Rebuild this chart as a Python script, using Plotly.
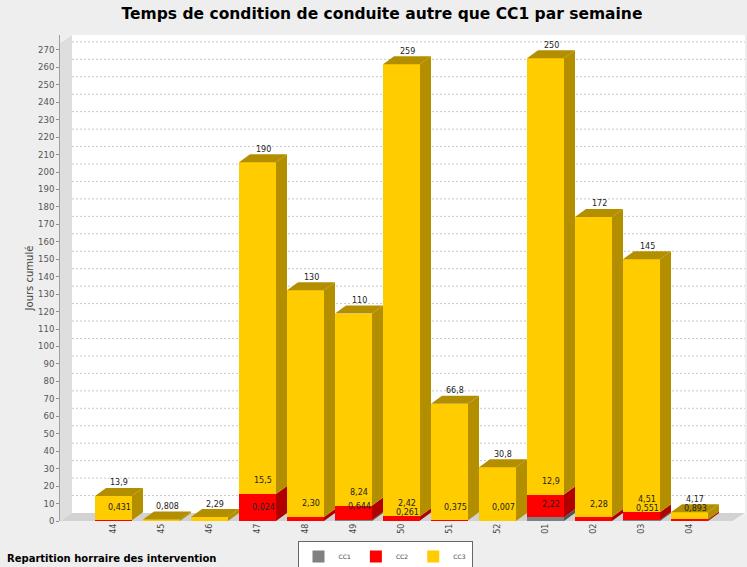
import plotly.graph_objects as go

# ---------------- data ----------------
weeks = ["44", "45", "46", "47", "48", "49", "50", "51", "52", "01", "02", "03", "04"]
series_names = ["CC1", "CC2", "CC3"]
cc1 = [0, 0, 0, 0.024, 0, 0.644, 0.261, 0, 0, 2.22, 0, 0.551, 0]
cc2 = [0.431, 0, 0, 15.5, 2.30, 8.24, 2.42, 0.375, 0.007, 12.9, 2.28, 4.51, 0.893]
cc3 = [13.9, 0.808, 2.29, 190, 130, 110, 259, 66.8, 30.8, 250, 172, 145, 4.17]
y_ticks = list(range(0, 280, 10))

title_text = "Temps de condition de conduite autre que CC1 par semaine"
y_title = "Jours cumulé"
subtitle = "Repartition horraire des intervention"

# ---------------- styling / geometry ----------------
W, H = 747, 567
ML, MR, MT, MB = 60, 2, 35, 46
plot_w = W - ML - MR
plot_h = H - MT - MB
PX_CAT = 48.0
first_center = 113.5 - ML
x0 = -first_center / PX_CAT
x1 = x0 + plot_w / PX_CAT
PX_UNIT = 1.745
ymax = plot_h / PX_UNIT

ddx = 11 / PX_CAT          # bar depth (x)
ddy = 8 / PX_UNIT          # bar depth (y)
wdx = 12 / PX_CAT          # wall depth
wdy = 8 / PX_UNIT
half = 18.5 / PX_CAT       # half bar width
LABEL_SHIFT = 13           # px above segment top
LABEL_SEP = 9              # min px between stacked labels

front_cols = ["#808080", "#FF0000", "#FFCC00"]
dark_cols = ["#555555", "#B00000", "#B38F00"]
paper_col = "#EEEEEE"

data = [cc1, cc2, cc3]
xs = list(range(len(weeks)))

fig = go.Figure()

for s, vals in enumerate(data):
    fig.add_trace(go.Bar(
        x=xs, y=vals, name=series_names[s], width=2 * half,
        marker=dict(color=front_cols[s], line=dict(width=0)),
        hoverinfo="skip"))


def fmt(v):
    if v >= 100:
        t = f"{v:.0f}"
    elif v >= 10:
        t = f"{v:.1f}"
    elif v >= 1:
        t = f"{v:.2f}"
    else:
        t = f"{v:.3f}"
    return t.replace(".", ",")


annotations = []
for i in xs:
    base = 0.0
    top_s = None
    labels = []
    for s, vals in enumerate(data):
        v = vals[i]
        if v <= 0:
            continue
        y0, y1 = base, base + v
        xr = i + half
        fig.add_trace(go.Scatter(
            x=[xr, xr + ddx, xr + ddx, xr, xr],
            y=[y0, y0 + ddy, y1 + ddy, y1, y0],
            mode="lines", fill="toself", fillcolor=dark_cols[s],
            line=dict(width=0, color=dark_cols[s]),
            showlegend=False, hoverinfo="skip"))
        labels.append((y1, v))
        base = y1
        top_s = s
    prev_px = None
    for y1, v in reversed(labels):
        px = y1 * PX_UNIT + LABEL_SHIFT
        if prev_px is not None and px > prev_px - LABEL_SEP:
            px = prev_px - LABEL_SEP
        prev_px = px
        annotations.append(dict(
            x=i + ddx / 2, y=y1, xref="x", yref="y", text=fmt(v),
            showarrow=False, yshift=px - y1 * PX_UNIT,
            font=dict(size=8, color="#222222", family="DejaVu Sans")))
    if top_s is not None:
        xl, xr = i - half, i + half
        fig.add_trace(go.Scatter(
            x=[xl, xr, xr + ddx, xl + ddx, xl],
            y=[base, base, base + ddy, base + ddy, base],
            mode="lines", fill="toself", fillcolor=dark_cols[top_s],
            line=dict(width=0, color=dark_cols[top_s]),
            showlegend=False, hoverinfo="skip"))

shapes = []
for v in y_ticks[1:]:
    shapes.append(dict(type="line", xref="x", yref="y",
                       x0=x0 + wdx, x1=x1, y0=v + wdy, y1=v + wdy,
                       line=dict(color="#C8C8C8", width=1, dash="2px,2px"),
                       layer="below"))
shapes.append(dict(type="path", xref="x", yref="y",
                   path=f"M {x0},0 L {x0+wdx},{wdy} L {x0+wdx},{ymax} L {x0},{ymax-wdy} Z",
                   fillcolor="#DEDEDE", line=dict(width=0), layer="below"))
shapes.append(dict(type="path", xref="x", yref="y",
                   path=f"M {x0},0 L {x1-wdx},0 L {x1},{wdy} L {x0+wdx},{wdy} Z",
                   fillcolor="#D2D2D2", line=dict(width=0), layer="below"))
shapes.append(dict(type="path", xref="x", yref="y",
                   path=f"M {x0},{ymax} L {x0+wdx},{ymax} L {x0},{ymax-wdy} Z",
                   fillcolor=paper_col, line=dict(width=0), layer="below"))
shapes.append(dict(type="path", xref="x", yref="y",
                   path=f"M {x1-wdx},0 L {x1},0 L {x1},{wdy} Z",
                   fillcolor=paper_col, line=dict(width=0), layer="below"))

annotations.append(dict(
    text=subtitle, xref="paper", yref="paper",
    x=(5 - ML) / plot_w, y=-(558 - (H - MB)) / plot_h,
    xanchor="left", yanchor="middle", showarrow=False,
    font=dict(size=10, color="#000000", family="DejaVu Sans", weight="bold")))

fig.update_layout(
    width=W, height=H,
    margin=dict(l=ML, r=MR, t=MT, b=MB, pad=0, autoexpand=False),
    paper_bgcolor=paper_col, plot_bgcolor="#FFFFFF",
    barmode="stack",
    title=dict(text=title_text, x=382 / W, xanchor="center", xref="container",
               y=1 - 14 / H, yanchor="middle",
               font=dict(size=15.5, color="#000000", family="DejaVu Sans",
                         weight="bold")),
    xaxis=dict(range=[x0, x1], tickmode="array", tickvals=xs, ticktext=weeks,
               tickangle=-90, showgrid=False, zeroline=False, showline=False,
               automargin=False, ticks="",
               tickfont=dict(size=8, color="#444444", family="DejaVu Sans")),
    yaxis=dict(range=[0, ymax], tickmode="array", tickvals=y_ticks,
               showgrid=False, zeroline=False, showline=True, automargin=False,
               linecolor="#A0A0A0", linewidth=1,
               ticks="outside", ticklen=3, tickcolor="#909090",
               tickfont=dict(size=8.5, color="#555555", family="DejaVu Sans"),
               title=dict(text=y_title, standoff=2,
                          font=dict(size=10, color="#444444",
                                    family="DejaVu Sans"))),
    legend=dict(orientation="h", x=(385 - ML) / plot_w, xanchor="center",
                y=-(541 - (H - MB)) / plot_h, yanchor="top",
                traceorder="normal",
                bgcolor="#FFFFFF", bordercolor="#666666", borderwidth=1,
                font=dict(size=6, color="#444444", family="DejaVu Sans"),
                itemwidth=30, tracegroupgap=0),
    shapes=shapes,
    annotations=annotations,
    showlegend=True,
)

fig.write_html("out.html",
               config={"displayModeBar": False},
               post_script="document.body.style.margin='0';document.body.style.padding='0';")
